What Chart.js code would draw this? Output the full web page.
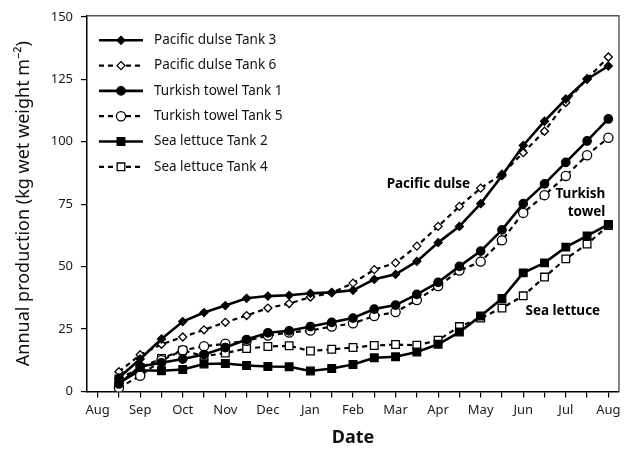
<!DOCTYPE html>
<html>
<head>
<meta charset="utf-8">
<script src="https://cdn.jsdelivr.net/npm/chart.js@4.4.1/dist/chart.umd.min.js"></script>
<style>
  html, body { margin: 0; padding: 0; background: #fff; }
  #wrap { width: 627px; height: 450px; }
</style>
</head>
<body>
<div id="wrap"><canvas id="c" width="627" height="450"></canvas></div>
<script>
// Month labels on the date axis (August to August)
const monthLabels = ['Aug', 'Sep', 'Oct', 'Nov', 'Dec', 'Jan', 'Feb', 'Mar', 'Apr', 'May', 'Jun', 'Jul', 'Aug'];
// Sampling times, in months after the start of August (twice a month)
const sampleMonths = [0.5, 1, 1.5, 2, 2.5, 3, 3.5, 4, 4.5, 5, 5.5, 6, 6.5, 7, 7.5, 8, 8.5, 9, 9.5, 10, 10.5, 11, 11.5, 12];
const yTickValues = [0, 25, 50, 75, 100, 125, 150];

// Cumulative annual production, kg wet weight per m2
const pacificDulseTank3 = [5.5, 13.0, 21.0, 28.0, 31.6, 34.4, 37.3, 38.2, 38.5, 39.3, 39.7, 40.5, 44.9, 46.9, 52.1, 59.6, 66.1, 75.2, 86.4, 98.5, 108.2, 117.1, 125.0, 130.3];
const pacificDulseTank6 = [7.9, 14.7, 18.9, 21.8, 24.7, 27.7, 30.4, 33.4, 35.2, 37.8, 39.5, 43.4, 48.8, 51.5, 58.2, 66.1, 74.1, 81.4, 87.0, 95.6, 104.2, 115.7, 125.2, 133.9];
const turkishTowelTank1 = [3.0, 10.0, 11.5, 13.0, 14.8, 17.6, 20.8, 23.5, 24.3, 26.0, 27.7, 29.4, 33.0, 34.6, 38.9, 43.7, 50.1, 56.2, 64.7, 75.2, 83.1, 91.7, 100.3, 109.1];
const turkishTowelTank5 = [1.5, 6.3, 12.5, 16.5, 18.1, 19.1, 20.3, 22.4, 23.6, 24.4, 26.0, 27.3, 30.2, 31.8, 36.6, 42.2, 48.4, 52.0, 60.5, 71.5, 78.6, 86.3, 94.6, 101.6];
const seaLettuceTank2 = [3.5, 8.5, 8.3, 8.8, 11.0, 11.2, 10.4, 10.0, 9.9, 8.2, 9.2, 10.8, 13.5, 13.9, 15.8, 18.9, 23.8, 30.2, 37.2, 47.5, 51.5, 57.8, 62.3, 66.9];
const seaLettuceTank4 = [5.0, 9.5, 13.2, 16.5, 14.1, 15.4, 17.2, 18.0, 18.3, 16.2, 16.9, 17.6, 18.4, 18.8, 18.5, 20.5, 26.0, 29.4, 33.4, 38.3, 45.8, 53.1, 59.0, 66.4];

// In-plot group labels (x in months, y in kg m-2)
const groupLabels = [
  { text: 'Pacific dulse', x: 7.77, y: 83.1, align: 'center' },
  { text: 'Turkish', x: 11.93, y: 79.0, align: 'right' },
  { text: 'towel', x: 11.93, y: 71.9, align: 'right' },
  { text: 'Sea lettuce', x: 10.93, y: 32.2, align: 'center' }
];

const FONT = '"Noto Sans", "Open Sans", "DejaVu Sans", sans-serif';

function points(values) {
  return values.map((v, i) => ({ x: sampleMonths[i], y: v }));
}

function series(label, values, style, filled, radius, dashed) {
  return {
    label: label,
    data: points(values),
    borderColor: '#000',
    borderWidth: dashed ? 2.2 : 2.6,
    borderDash: dashed ? [5, 4] : [],
    pointStyle: style,
    pointRadius: radius,
    pointHoverRadius: radius,
    pointBackgroundColor: filled ? '#000' : '#fff',
    pointBorderColor: '#000',
    pointBorderWidth: 1.3,
    tension: 0,
    fill: false
  };
}

const datasets = [
  series('Pacific dulse Tank 3', pacificDulseTank3, 'rectRot', true, 4, false),
  series('Pacific dulse Tank 6', pacificDulseTank6, 'rectRot', false, 4, true),
  series('Turkish towel Tank 1', turkishTowelTank1, 'circle', true, 4.2, false),
  series('Turkish towel Tank 5', turkishTowelTank5, 'circle', false, 4.6, true),
  series('Sea lettuce Tank 2', seaLettuceTank2, 'rect', true, 5.4, false),
  series('Sea lettuce Tank 4', seaLettuceTank4, 'rect', false, 5.4, true)
];

// Frame, legend block and group labels drawn over the plot
const overlayPlugin = {
  id: 'overlay',
  afterDatasetsDraw(chart) {
    const ctx = chart.ctx;
    const area = chart.chartArea;
    const xs = chart.scales.x, ys = chart.scales.y;

    // top and right frame
    ctx.save();
    ctx.strokeStyle = '#555';
    ctx.lineWidth = 1.4;
    ctx.beginPath();
    ctx.moveTo(area.left, area.top);
    ctx.lineTo(area.right, area.top);
    ctx.lineTo(area.right, area.bottom);
    ctx.stroke();
    ctx.restore();

    // legend
    const lx = area.left + 12;
    const ly = area.top + 24.5;
    const rowGap = 25.3;
    chart.data.datasets.forEach((ds, i) => {
      const y = ly + i * rowGap;
      ctx.save();
      ctx.strokeStyle = ds.borderColor;
      ctx.lineWidth = ds.borderWidth;
      ctx.setLineDash(ds.borderDash);
      ctx.beginPath();
      ctx.moveTo(lx, y);
      ctx.lineTo(lx + 44, y);
      ctx.stroke();
      ctx.setLineDash([]);
      ctx.fillStyle = ds.pointBackgroundColor;
      ctx.strokeStyle = ds.pointBorderColor;
      ctx.lineWidth = ds.pointBorderWidth;
      Chart.helpers.drawPoint(ctx, { pointStyle: ds.pointStyle, radius: ds.pointRadius, borderWidth: ds.pointBorderWidth, rotation: 0 }, lx + 22, y);
      ctx.fillStyle = '#111';
      ctx.font = '13.5px ' + FONT;
      ctx.textAlign = 'left';
      ctx.textBaseline = 'middle';
      ctx.fillText(ds.label, lx + 55, y);
      ctx.restore();
    });

    // group labels
    ctx.save();
    ctx.fillStyle = '#000';
    ctx.font = 'bold 13.5px ' + FONT;
    ctx.textBaseline = 'middle';
    groupLabels.forEach(g => {
      ctx.textAlign = g.align;
      ctx.fillText(g.text, xs.getPixelForValue(g.x), ys.getPixelForValue(g.y));
    });
    ctx.restore();
  }
};

new Chart(document.getElementById('c'), {
  type: 'line',
  data: { datasets: datasets },
  options: {
    responsive: false,
    animation: false,
    devicePixelRatio: 1,
    layout: { padding: { top: 11.5, right: 8, bottom: 0, left: 0 } },
    plugins: { legend: { display: false }, tooltip: { enabled: false } },
    scales: {
      x: {
        type: 'linear',
        min: -0.25,
        max: 12.25,
        afterBuildTicks(scale) {
          const t = [];
          for (let k = 0; k <= (monthLabels.length - 1) * 2; k++) t.push({ value: k / 2 });
          scale.ticks = t;
        },
        afterFit(scale) { scale.height = 58.5; },
        ticks: {
          autoSkip: false,
          maxRotation: 0,
          minRotation: 0,
          padding: 5,
          color: '#1a1a1a',
          font: { family: FONT, size: 13 },
          callback(value) {
            const k = Math.round(value * 2);
            return k % 2 === 0 ? monthLabels[k / 2] : '';
          }
        },
        grid: { display: true, drawOnChartArea: false, drawTicks: true, tickLength: 6, color: '#000', lineWidth: 1.2 },
        border: { display: true, color: '#000', width: 1.5 },
        title: { display: true, text: 'Date', color: '#111', font: { family: FONT, size: 18, weight: 'bold' }, padding: { top: 0, bottom: 1 } }
      },
      y: {
        type: 'linear',
        min: 0,
        max: 150.4,
        afterBuildTicks(scale) { scale.ticks = yTickValues.map(v => ({ value: v })); },
        afterFit(scale) { scale.width = 87; },
        ticks: { padding: 8, color: '#1a1a1a', font: { family: FONT, size: 13 } },
        grid: { display: true, drawOnChartArea: false, drawTicks: true, tickLength: 6, color: '#000', lineWidth: 1.2 },
        border: { display: true, color: '#000', width: 1.5 },
        title: { display: true, text: 'Annual production (kg wet weight m\u207B\u00B2)', color: '#111', font: { family: FONT, size: 18 }, padding: { top: 13, bottom: 0 } }
      }
    }
  },
  plugins: [overlayPlugin]
});
</script>
</body>
</html>
